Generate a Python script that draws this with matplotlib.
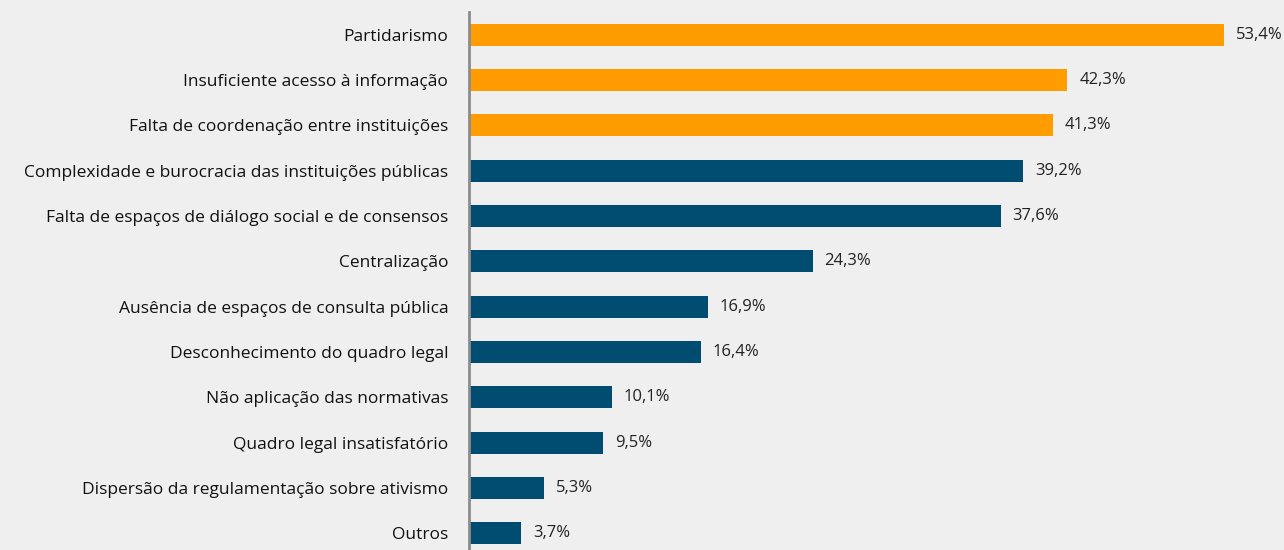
import matplotlib
matplotlib.use("Agg")
import matplotlib.pyplot as plt

categories = [
    "Partidarismo",
    "Insuficiente acesso à informação",
    "Falta de coordenação entre instituições",
    "Complexidade e burocracia das instituições públicas",
    "Falta de espaços de diálogo social e de consensos",
    "Centralização",
    "Ausência de espaços de consulta pública",
    "Desconhecimento do quadro legal",
    "Não aplicação das normativas",
    "Quadro legal insatisfatório",
    "Dispersão da regulamentação sobre ativismo",
    "Outros",
]
values = [53.4, 42.3, 41.3, 39.2, 37.6, 24.3, 16.9, 16.4, 10.1, 9.5, 5.3, 3.7]
highlight_top = 3

ORANGE = "#ff9c00"
BLUE = "#004d71"
BG = "#efefef"

plt.rcParams["font.family"] = ["Open Sans", "DejaVu Sans"]

fig = plt.figure(figsize=(12.84, 5.5), dpi=100, facecolor=BG)
ax = fig.add_axes([469 / 1284, 0.0, 1 - 469 / 1284, 1 - 12 / 550], facecolor=BG)

colors = [ORANGE if i < highlight_top else BLUE for i in range(len(values))]
y = list(range(len(values)))
ax.barh(y, values, height=0.485, color=colors, zorder=2)

for yi, v in zip(y, values):
    ax.text(v + 0.85, yi, f"{v:.1f}%".replace(".", ","), va="center", ha="left",
            fontsize=12, color="#222222")

ax.set_yticks(y)
ax.set_yticklabels(categories, fontsize=12.55, color="#111111")
ax.tick_params(axis="y", length=0, pad=15)
ax.set_xticks([])
ax.set_xlim(0, 815 / 14.14)
ax.set_ylim(11.37, -0.5)

for s in ["top", "right", "bottom"]:
    ax.spines[s].set_visible(False)
ax.spines["left"].set_color("#8c8c8c")
ax.spines["left"].set_linewidth(2)

fig.savefig("out.png", dpi=100, facecolor=BG)
